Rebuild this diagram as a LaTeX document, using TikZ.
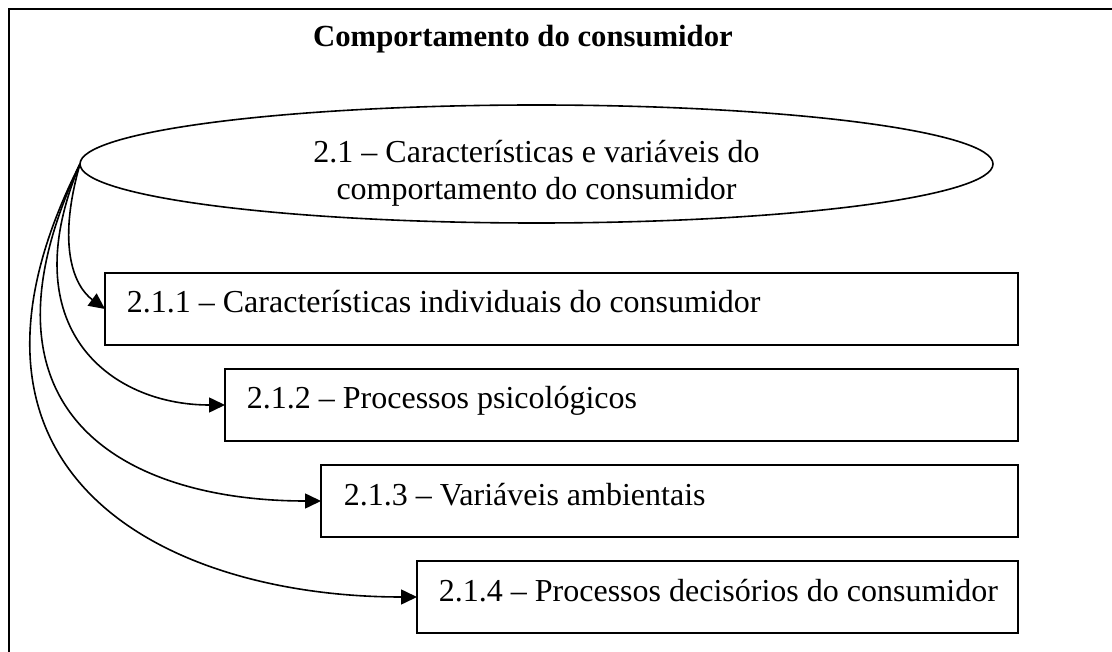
\documentclass[tikz,border=0pt]{standalone}
\usepackage{fontspec}
\setmainfont{Liberation Serif}
\usetikzlibrary{shapes.geometric,arrows.meta,calc}
\begin{document}
\begin{tikzpicture}[x=1pt,y=-1pt,
  line width=1.8pt,
  boxstyle/.style={draw,rectangle,anchor=north west,inner sep=0pt,outer sep=0pt,minimum height=72pt},
  boxtext/.style={anchor=base west,inner sep=0pt,font=\fontsize{32}{37}\selectfont},
  conn/.style={line width=1.6pt,-{Triangle[length=16pt,width=15pt]}}]
\useasboundingbox (0,0) rectangle (1112,652);
% frame
\coordinate (fr) at (1140,9);
\coordinate (fc) at (9,9);
\coordinate (fb) at (9,680);
\draw (fr) -- (fc) -- (fb);
% title
\node[anchor=base,inner sep=0pt,font=\fontsize{30.7}{36}\selectfont\bfseries] (title) at (523,47) {Comportamento do consumidor};
% ellipse
\node[draw,ellipse,inner sep=0pt,outer sep=0pt,minimum width=913pt,minimum height=118pt,line width=1.6pt] (e) at (536.5,164) {};
\node[align=center,inner sep=0pt,font=\fontsize{32}{37}\selectfont] (et) at ($(e.center)+(0,9)$) {2.1 – Características e variáveis do\\comportamento do consumidor};
% boxes
\node[boxstyle,minimum width=913pt] (b1) at (105,273) {};
\node[boxstyle,minimum width=793pt] (b2) at (225,369) {};
\node[boxstyle,minimum width=697pt] (b3) at (321,465) {};
\node[boxstyle,minimum width=601pt] (b4) at (417,561) {};
\node[boxtext] (t1) at ($(b1.north west)+(21,40)$) {2.1.1 – Características individuais do consumidor};
\node[boxtext] (t2) at ($(b2.north west)+(21,40)$) {2.1.2 – Processos psicológicos};
\node[boxtext] (t3) at ($(b3.north west)+(22,40)$) {2.1.3 – Variáveis ambientais};
\node[boxtext] (t4) at ($(b4.north west)+(21,40)$) {2.1.4 – Processos decisórios do consumidor};
% connectors
\draw[conn] (e.west) .. controls +(-24,84) and +(-30,-22) .. (b1.west);
\draw[conn] (e.west) .. controls +(-69,164) and +(-115,0) .. (b2.west);
\draw[conn] (e.west) .. controls +(-119,254) and +(-190,0) .. (b3.west);
\draw[conn] (e.west) .. controls +(-159,314) and +(-247,0) .. (b4.west);
\end{tikzpicture}
\end{document}
